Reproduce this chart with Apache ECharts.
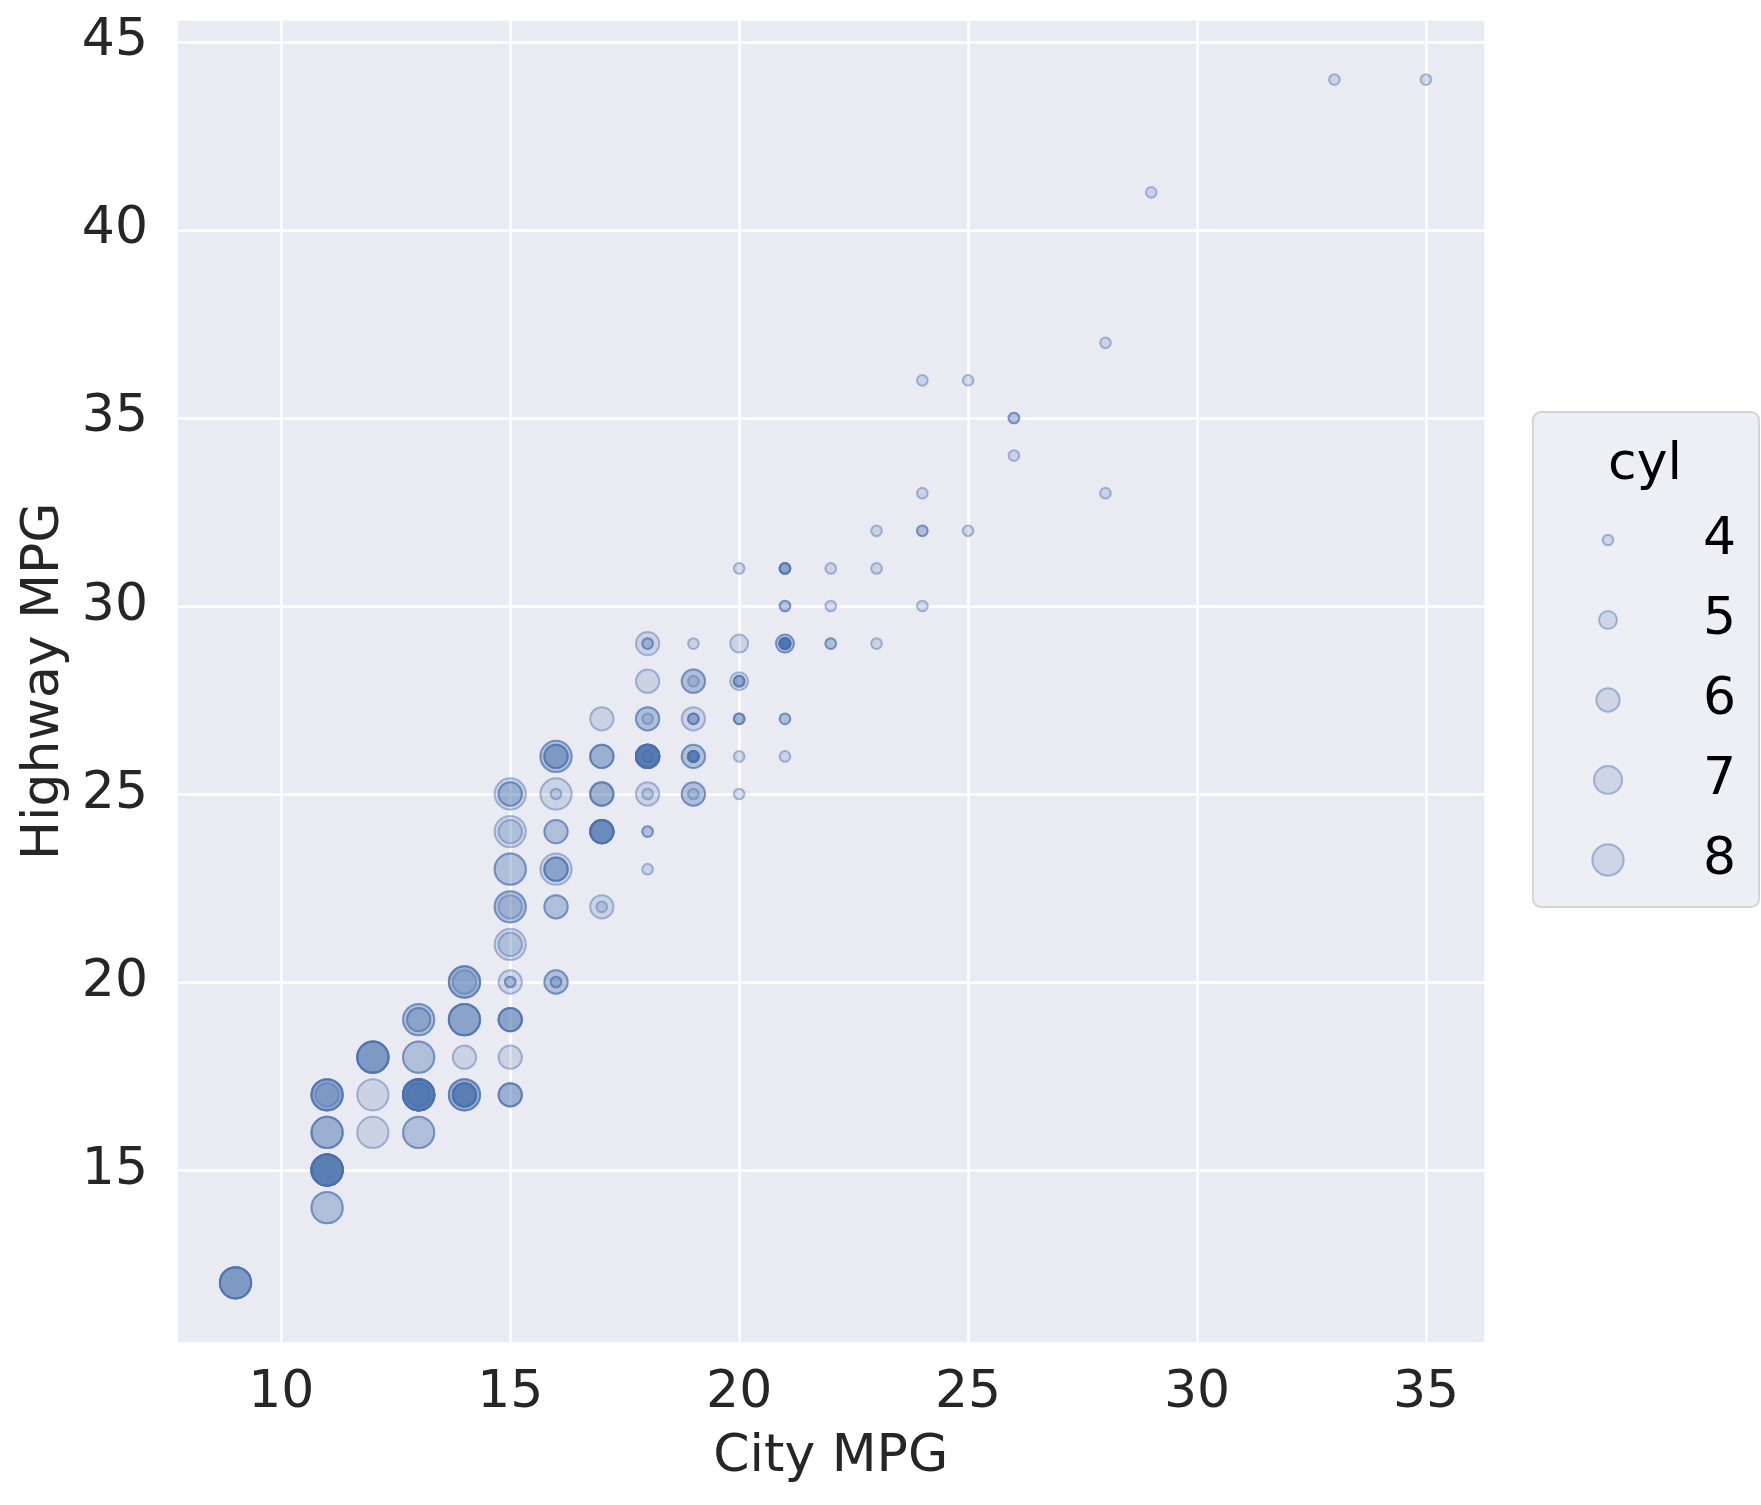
<!DOCTYPE html>
<html>
<head>
<meta charset="UTF-8" />
<title>City vs Highway MPG</title>
<script src="https://cdn.jsdelivr.net/npm/echarts@6.0.0/dist/echarts.min.js"></script>
<style type="text/css">
body{
	margin: 0px;
	background-color: #fff;
}
#chart{
	width: 1761px;
	height: 1505px;
}
</style>
</head>
<body>

<div id="chart"></div>

<script type="text/javascript">

// one entry per car, split by number of cylinders
var cty4 = [18,18, 21,21,21,21,21,21,21,21,21,21,21,21, 20, 21,21, 18,18, 16, 20,20,20, 19,19,19, 22, 18,18, 28,
	24,24, 25, 23, 26, 25, 24, 18, 21,21,21,21, 19, 20,20,20, 23, 23, 18, 19, 20, 20, 18, 21,
	19,19,19,19,19,19,19,19, 15,15, 16,16, 21,21, 22, 24, 24, 26,26, 28, 17, 22,22, 33, 35, 29, 19];
var hwy4 = [29,29, 29,29,29,29,29,29,29,29,29,29,29,29, 31, 30,30, 26,26, 25, 28,28,28, 27,27,27, 30, 24,24, 33,
	32,32, 32, 29, 34, 36, 36, 27, 31,31,31,31, 29, 27,27,27, 31, 32, 25, 25, 26, 25, 23, 26,
	26,26,26,26,26,26,26,26, 20,20, 20,20, 27,27, 31, 30, 33, 35,35, 37, 22, 29,29, 44, 44, 41, 28];

var cty5 = [21,21, 20, 20];
var hwy5 = [29,29, 28, 29];

var cty6 = [16,16,16, 18,18,18,18,18,18,18,18,18,18,18, 18,18, 15,15, 17,17,17, 15, 18, 17,17,17,
	17,17,17,17,17,17,17, 16,16, 11, 15, 15, 16,16,16, 15,15,15,15, 14, 13,13, 14,14,14,14,14,14,14,
	15,15,15, 13,13, 18, 16,16, 19,19, 17, 15, 19, 19,19, 19,19, 14, 17, 18, 16,16, 15];
var hwy6 = [26,26,26, 26,26,26,26,26,26,26,26,26,26,26, 27,27, 25,25, 25,25,25, 24, 29, 26,26,26,
	24,24,24,24,24,24,24, 22,22, 17, 22, 21, 23,23,23, 19,19,19,19, 18, 17,17, 17,17,17,17,17,17,17,
	17,17,17, 19,19, 25, 24,24, 28,28, 22, 20, 27, 26,26, 25,25, 20, 27, 28, 20,20, 18];

var cty7 = [];
var hwy7 = [];

var cty8 = [16, 14,14,14, 11,11,11,11,11,11,11,11,11,11, 13,13,13,13,13,13,13,13,13,13, 12, 16,16, 15,15, 15, 15,
	14,14,14,14, 11,11, 14,14,14, 9,9,9,9,9, 11,11,11,11, 11,11,11, 12, 12,12,12,12,12, 13,13, 13,13,
	15, 15,15, 13,13, 16];
var hwy8 = [23, 20,20,20, 15,15,15,15,15,15,15,15,15,15, 17,17,17,17,17,17,17,17,17,17, 17, 26,26, 23,23, 25, 24,
	19,19,19,19, 14,14, 17,17,17, 12,12,12,12,12, 17,17,17,17, 16,16,16, 16, 18,18,18,18,18, 19,19, 16,16,
	21, 22,22, 18,18, 25];

var cylLevels = ['4', '5', '6', '7', '8'];

// styling
var FONT = '"DejaVu Sans", "Liberation Sans", sans-serif';
var INK = '#262626';
var markerSize = {'4': 10.7, '5': 18, '6': 23.3, '7': 28, '8': 31.3};
var legendY = [540, 620, 700, 780, 860];
var legendX = 1607;
var fillCol = 'rgba(76,114,176,0.2)';
var edgeCol = 'rgba(76,114,176,0.45)';

var ctyLists = {'4': cty4, '5': cty5, '6': cty6, '7': cty7, '8': cty8};
var hwyLists = {'4': hwy4, '5': hwy5, '6': hwy6, '7': hwy7, '8': hwy8};

function pairs(xs, ys){
	var out = [];
	for(var i = 0; i < xs.length; i++){
		out.push([xs[i], ys[i]]);
	}
	return out;
}

var series = cylLevels.map(function(c){
	return {
		name: c,
		type: 'scatter',
		symbol: 'circle',
		symbolSize: markerSize[c],
		data: pairs(ctyLists[c], hwyLists[c]),
		itemStyle: {color: fillCol, borderColor: edgeCol, borderWidth: 2, opacity: 1},
		emphasis: {disabled: true},
		silent: true
	};
});

// one legend block per level so each icon keeps its own size
var legends = cylLevels.map(function(c, i){
	var d = markerSize[c];
	return {
		data: [c],
		orient: 'horizontal',
		left: legendX - d / 2,
		top: legendY[i] - 26,
		padding: 0,
		z: 5,
		itemWidth: d,
		itemHeight: d,
		selectedMode: false,
		icon: 'circle',
		itemStyle: {color: fillCol, borderColor: edgeCol, borderWidth: 2},
		textStyle: {
			fontSize: 52, lineHeight: 52, fontFamily: FONT, color: '#000000',
			padding: [0, 0, 0, 90 - d / 2]
		}
	};
});

var axisText = {fontSize: 52, fontFamily: FONT, color: INK};

var option = {
	animation: false,
	backgroundColor: '#ffffff',
	grid: {
		left: 176,
		right: 275.5,
		top: 19.4,
		bottom: 162,
		show: true,
		backgroundColor: '#eaeaf2',
		borderWidth: 0
	},
	xAxis: {
		type: 'value',
		min: 7.7,
		max: 36.3,
		splitNumber: 6,
		axisLine: {show: false},
		axisTick: {show: false},
		splitLine: {show: true, lineStyle: {color: '#ffffff', width: 2.5}},
		axisLabel: Object.assign({margin: 24, showMinLabel: false, showMaxLabel: false}, axisText),
		name: 'City MPG',
		nameLocation: 'middle',
		nameGap: 88,
		nameTextStyle: axisText
	},
	yAxis: {
		type: 'value',
		min: 10.4,
		max: 45.6,
		splitNumber: 7,
		axisLine: {show: false},
		axisTick: {show: false},
		splitLine: {show: true, lineStyle: {color: '#ffffff', width: 2.5}},
		axisLabel: Object.assign({margin: 28, showMinLabel: false, showMaxLabel: false}, axisText),
		name: 'Highway MPG',
		nameLocation: 'middle',
		nameGap: 101,
		nameTextStyle: axisText
	},
	legend: legends,
	graphic: [
		{
			type: 'rect',
			z: 1,
			shape: {x: 1533, y: 412, width: 226, height: 495, r: 8},
			style: {fill: 'rgba(234,234,242,0.8)', stroke: '#d4d4d4', lineWidth: 2}
		},
		{
			type: 'text',
			z: 2,
			x: 1645,
			y: 465,
			style: {text: 'cyl', font: '52px ' + FONT, fill: '#000000', textAlign: 'center', textVerticalAlign: 'middle'}
		}
	],
	series: series
};

var myChart = echarts.init(document.getElementById('chart'));
myChart.setOption(option);

</script>

</body>
</html>
